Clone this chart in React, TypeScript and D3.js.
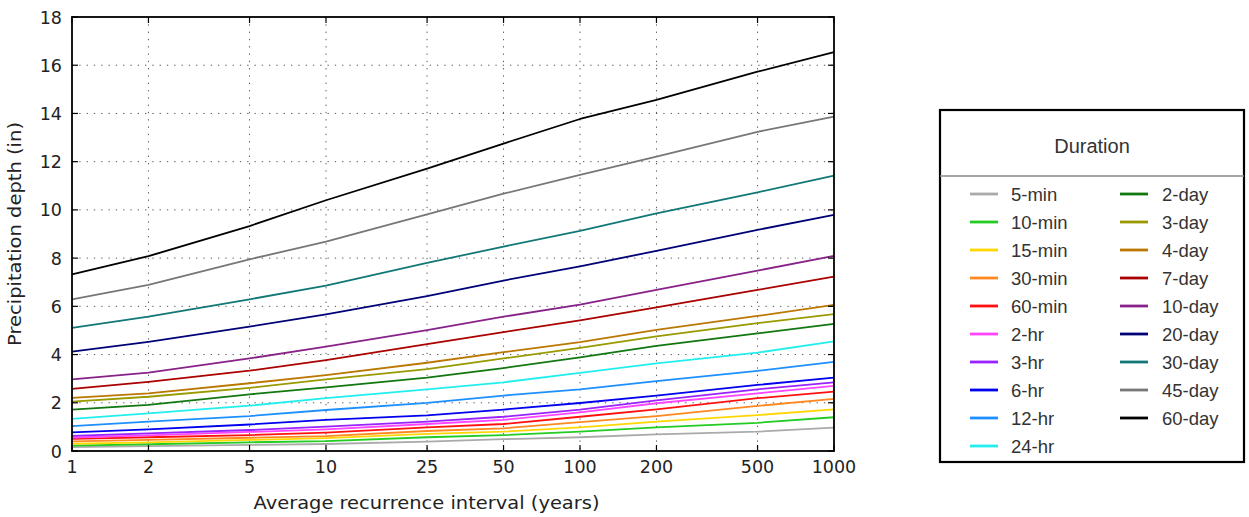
import * as d3 from 'd3';

// Recurrence intervals (years)
const intervals = [1, 2, 5, 10, 25, 50, 100, 200, 500, 1000];
const yTicks = [0, 2, 4, 6, 8, 10, 12, 14, 16, 18];

// Precipitation depth (in) per duration
const min5 = [0.16, 0.2, 0.25, 0.29, 0.39, 0.49, 0.57, 0.69, 0.8, 0.97];
const min10 = [0.22, 0.28, 0.36, 0.41, 0.57, 0.66, 0.8, 0.98, 1.17, 1.4];
const min15 = [0.3, 0.36, 0.46, 0.53, 0.71, 0.8, 0.98, 1.22, 1.49, 1.73];
const min30 = [0.4, 0.46, 0.55, 0.62, 0.83, 0.94, 1.2, 1.45, 1.87, 2.16];
const min60 = [0.5, 0.57, 0.66, 0.76, 0.98, 1.12, 1.42, 1.73, 2.19, 2.46];
const hr2 = [0.56, 0.65, 0.79, 0.9, 1.12, 1.29, 1.6, 1.98, 2.39, 2.7];
const hr3 = [0.63, 0.73, 0.87, 1.01, 1.22, 1.42, 1.72, 2.1, 2.56, 2.85];
const hr6 = [0.77, 0.9, 1.1, 1.29, 1.48, 1.72, 1.99, 2.3, 2.74, 3.04];
const hr12 = [1.03, 1.22, 1.45, 1.7, 2.0, 2.3, 2.56, 2.9, 3.32, 3.7];
const hr24 = [1.33, 1.56, 1.88, 2.19, 2.56, 2.85, 3.24, 3.63, 4.08, 4.55];
const day2 = [1.72, 1.91, 2.35, 2.64, 3.04, 3.44, 3.88, 4.36, 4.88, 5.27];
const day3 = [2.05, 2.25, 2.62, 2.97, 3.4, 3.84, 4.28, 4.75, 5.3, 5.68];
const day4 = [2.2, 2.39, 2.81, 3.15, 3.66, 4.1, 4.52, 5.02, 5.6, 6.06];
const day7 = [2.58, 2.87, 3.33, 3.77, 4.43, 4.93, 5.42, 5.96, 6.68, 7.23];
const day10 = [2.97, 3.25, 3.84, 4.33, 5.01, 5.57, 6.07, 6.68, 7.48, 8.09];
const day20 = [4.12, 4.53, 5.16, 5.67, 6.42, 7.07, 7.66, 8.3, 9.17, 9.79];
const day30 = [5.11, 5.57, 6.29, 6.86, 7.8, 8.48, 9.13, 9.86, 10.73, 11.42];
const day45 = [6.29, 6.89, 7.95, 8.68, 9.81, 10.67, 11.45, 12.21, 13.24, 13.87];
const day60 = [7.33, 8.08, 9.33, 10.4, 11.71, 12.75, 13.77, 14.56, 15.73, 16.54];

const labels = [
  '5-min', '10-min', '15-min', '30-min', '60-min', '2-hr', '3-hr', '6-hr', '12-hr', '24-hr',
  '2-day', '3-day', '4-day', '7-day', '10-day', '20-day', '30-day', '45-day', '60-day',
];
const colors = [
  '#aaaaaa', '#22cc22', '#ffd700', '#ff8820', '#ff1010', '#ff44ff', '#9922ff', '#0000ee', '#1e8fff', '#22eeee',
  '#117711', '#999900', '#bb7700', '#aa0000', '#882288', '#000077', '#117777', '#777777', '#000000',
];
const values = [min5, min10, min15, min30, min60, hr2, hr3, hr6, hr12, hr24,
  day2, day3, day4, day7, day10, day20, day30, day45, day60];

const series = labels.map((label, i) => ({ label, color: colors[i], values: values[i] }));

export default function App() {
  const width = 1249;
  const height = 517;
  const plotLeft = 72;
  const plotRight = 834;
  const plotTop = 17;
  const plotBottom = 451;

  const x = d3.scaleLog().domain([1, 1000]).range([plotLeft, plotRight]);
  const y = d3.scaleLinear().domain([0, 18]).range([plotBottom, plotTop]);

  const line = d3
    .line<number>()
    .x((_, i) => x(intervals[i]))
    .y((d) => y(d));

  const tickFont = 'DejaVu Sans, sans-serif';
  const tickLen = 6;

  // legend layout
  const lg = { x: 940, y: 110, w: 304, h: 352 };
  const rowY = (r: number) => 194 + r * 28;

  return (
    <div style={{ position: 'absolute', left: 0, top: 0 }}>
      <svg width={width} height={height} style={{ display: 'block' }}>
        <rect x={0} y={0} width={width} height={height} fill="#fff" />

        {/* grid */}
        <g stroke="#555" strokeWidth={1} strokeDasharray="1.3,6" fill="none">
          {intervals.slice(1, -1).map((v) => (
            <line key={`gx${v}`} x1={x(v)} x2={x(v)} y1={plotTop} y2={plotBottom} />
          ))}
          {yTicks.slice(1, -1).map((v) => (
            <line key={`gy${v}`} x1={plotLeft} x2={plotRight} y1={y(v)} y2={y(v)} />
          ))}
        </g>

        {/* series */}
        <g fill="none" strokeWidth={1.8} strokeLinejoin="round">
          {series.map((s) => (
            <path key={s.label} d={line(s.values) || ''} stroke={s.color} />
          ))}
        </g>

        {/* ticks */}
        <g stroke="#000" strokeWidth={1.2}>
          {intervals.map((v) => (
            <g key={`tx${v}`}>
              <line x1={x(v)} x2={x(v)} y1={plotBottom} y2={plotBottom - tickLen} />
              <line x1={x(v)} x2={x(v)} y1={plotTop} y2={plotTop + tickLen} />
            </g>
          ))}
          {yTicks.map((v) => (
            <g key={`ty${v}`}>
              <line x1={plotLeft} x2={plotLeft + tickLen} y1={y(v)} y2={y(v)} />
              <line x1={plotRight} x2={plotRight - tickLen} y1={y(v)} y2={y(v)} />
            </g>
          ))}
        </g>

        {/* frame */}
        <rect
          x={plotLeft}
          y={plotTop}
          width={plotRight - plotLeft}
          height={plotBottom - plotTop}
          fill="none"
          stroke="#000"
          strokeWidth={1.8}
        />

        {/* tick labels */}
        <g fontFamily={tickFont} fontSize={17.5} fill="#222">
          {intervals.map((v) => (
            <text key={`lx${v}`} x={x(v)} y={plotBottom + 22} textAnchor="middle">
              {v}
            </text>
          ))}
          {yTicks.map((v) => (
            <text key={`ly${v}`} x={62} y={y(v) + 6.5} textAnchor="end">
              {v}
            </text>
          ))}
        </g>

        {/* axis labels */}
        <text
          x={426.5}
          y={509}
          textAnchor="middle"
          fontFamily={tickFont}
          fontSize={18}
          textLength={346}
          lengthAdjust="spacingAndGlyphs"
          fill="#222"
        >
          Average recurrence interval (years)
        </text>
        <text
          transform="translate(21,234) rotate(-90)"
          textAnchor="middle"
          fontFamily={tickFont}
          fontSize={17}
          textLength={224}
          lengthAdjust="spacingAndGlyphs"
          fill="#222"
        >
          Precipitation depth (in)
        </text>

        {/* legend */}
        <g fontFamily="Liberation Sans, Arial, sans-serif" fontSize={18.5} fill="#333">
          <rect x={lg.x} y={lg.y} width={lg.w} height={lg.h} fill="#fff" stroke="#000" strokeWidth={2.2} />
          <text x={1092} y={153} textAnchor="middle" fontSize={20}>
            Duration
          </text>
          <line x1={lg.x} x2={lg.x + lg.w} y1={176} y2={176} stroke="#888" strokeWidth={1.3} />
          {series.map((s, i) => {
            const col = i < 10 ? 0 : 1;
            const row = col === 0 ? i : i - 10;
            const lx = col === 0 ? 970 : 1120;
            const tx = col === 0 ? 1011 : 1162;
            const ry = rowY(row);
            return (
              <g key={`lg${s.label}`}>
                <line x1={lx} x2={lx + 28} y1={ry} y2={ry} stroke={s.color} strokeWidth={2.8} />
                <text x={tx} y={ry + 6.5}>
                  {s.label}
                </text>
              </g>
            );
          })}
        </g>
      </svg>
    </div>
  );
}
